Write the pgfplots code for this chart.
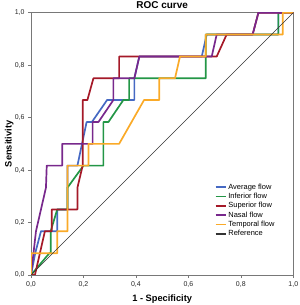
\documentclass[border=0pt]{standalone}
\usepackage{pgfplots}
\pgfplotsset{compat=1.18}
\usepackage{fontspec}
\setmainfont{Liberation Sans}
\definecolor{cblue}{RGB}{70,105,195}
\definecolor{cgreen}{RGB}{35,150,70}
\definecolor{cred}{RGB}{165,25,40}
\definecolor{cpurple}{RGB}{120,40,140}
\definecolor{corange}{RGB}{250,170,40}
\definecolor{frame}{RGB}{120,120,120}
\begin{document}
\begin{tikzpicture}
\useasboundingbox (-31bp,-30bp) rectangle (269bp,275bp);
\begin{axis}[
  at={(0,0)}, anchor=south west,
  scale only axis, width=262.3bp, height=262.3bp,
  xmin=0, xmax=1, ymin=0, ymax=1,
  xtick={0,0.2,...,1.0}, ytick={0,0.2,...,1.0},
  xtick pos=bottom, ytick pos=left, tick align=outside,
  major tick length=3bp,
  axis line style={frame, line width=0.8pt},
  every tick/.style={frame, line width=0.6pt},
  /pgf/number format/assume math mode=true,
  /pgf/number format/.cd, use comma, fixed, fixed zerofill, precision=1, /pgfplots/.cd,
  tick label style={font=\fontsize{7}{8}\selectfont, text=black!85},
  every axis title shift=0pt,
  title={ROC curve},
  title style={font=\bfseries\fontsize{10}{12}\selectfont, at={(axis description cs:0.5,1.017)}, anchor=base},
  xlabel={1 - Specificity},
  xlabel style={font=\bfseries\fontsize{9.3}{11}\selectfont, at={(axis description cs:0.5,-0.102)}, anchor=base},
  ylabel={Sensitivity},
  ylabel style={font=\bfseries\fontsize{9.3}{11}\selectfont, at={(axis description cs:-0.074,0.5)}, anchor=base},
  legend style={draw=none, fill=none, at={(axis description cs:0.70,0.356)}, anchor=north west,
    font=\fontsize{7.5}{8}\selectfont, row sep=-1.6bp, inner sep=0pt,
    cells={anchor=west}},
  legend image code/.code={\draw[#1, line width=1.6pt] (0bp,0bp) -- (10bp,0bp);},
  every axis plot/.append style={line width=1.7pt, line join=round},
]
\addplot[cblue] coordinates {(0,0)(0.016,0.083)(0.038,0.167)(0.1,0.167)(0.1,0.25)(0.139,0.25)(0.139,0.417)(0.177,0.417)(0.212,0.583)(0.232,0.583)(0.29,0.667)(0.394,0.667)(0.394,0.75)(0.413,0.833)(0.651,0.833)(0.67,0.917)(0.943,0.917)(0.943,1)(1,1)};
\addlegendentry{Average flow}
\addplot[cgreen] coordinates {(0,0)(0.07,0.083)(0.075,0.083)(0.075,0.167)(0.1,0.25)(0.139,0.25)(0.139,0.333)(0.2,0.417)(0.276,0.417)(0.276,0.583)(0.295,0.583)(0.352,0.667)(0.374,0.667)(0.374,0.75)(0.666,0.75)(0.666,0.917)(0.943,0.917)(0.943,1)(1,1)};
\addlegendentry{Inferior flow}
\addplot[cred] coordinates {(0,0)(0.015,0)(0.053,0.167)(0.079,0.167)(0.079,0.25)(0.177,0.25)(0.177,0.333)(0.197,0.417)(0.197,0.667)(0.215,0.667)(0.238,0.75)(0.336,0.75)(0.336,0.833)(0.708,0.833)(0.746,0.917)(0.845,0.917)(0.867,1)(1,1)};
\addlegendentry{Superior flow}
\addplot[cpurple] coordinates {(0,0)(0.019,0.167)(0.057,0.333)(0.06,0.417)(0.119,0.417)(0.119,0.5)(0.235,0.5)(0.235,0.583)(0.257,0.583)(0.314,0.667)(0.314,0.75)(0.394,0.75)(0.413,0.833)(0.689,0.833)(0.708,0.917)(0.845,0.917)(0.867,1)(1,1)};
\addlegendentry{Nasal flow}
\addplot[corange] coordinates {(0,0)(0,0.083)(0.1,0.083)(0.1,0.167)(0.139,0.167)(0.139,0.417)(0.219,0.417)(0.219,0.5)(0.336,0.5)(0.431,0.667)(0.489,0.667)(0.489,0.75)(0.549,0.75)(0.568,0.833)(0.666,0.833)(0.666,0.917)(0.96,0.917)(0.96,1)(1,1)};
\addlegendentry{Temporal flow}
\addplot[black!80, line width=0.6pt] coordinates {(0,0)(1,1)};
\addlegendentry{Reference}
\end{axis}
\end{tikzpicture}
\end{document}
